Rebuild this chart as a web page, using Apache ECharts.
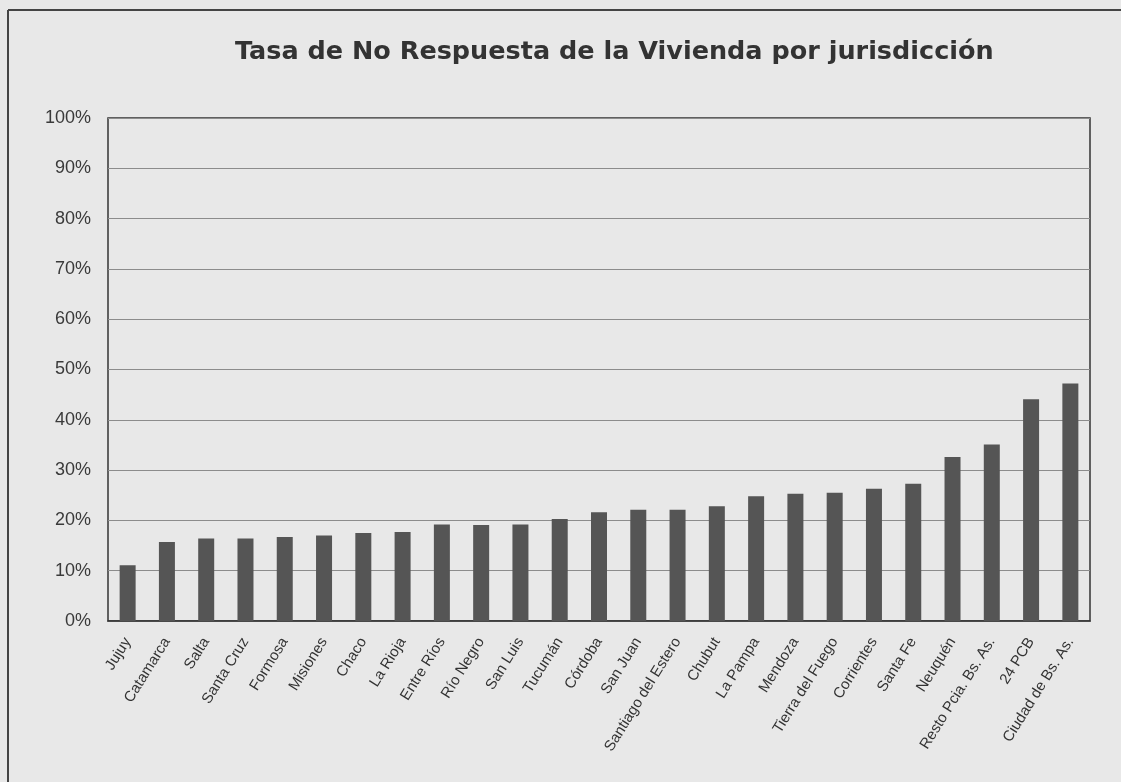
<!DOCTYPE html>
<html>
<head>
<meta charset="utf-8">
<script src="https://cdn.jsdelivr.net/npm/echarts@6/dist/echarts.min.js"></script>
<style>
  html, body { margin: 0; padding: 0; background: #e8e8e8; }
  #chart { width: 1121px; height: 782px; }
</style>
</head>
<body>
<div id="chart"></div>
<script>
const titleText = 'Tasa de No Respuesta de la Vivienda por jurisdicción';
const categories = ['Jujuy', 'Catamarca', 'Salta', 'Santa Cruz', 'Formosa', 'Misiones', 'Chaco', 'La Rioja',
  'Entre Ríos', 'Río Negro', 'San Luis', 'Tucumán', 'Córdoba', 'San Juan', 'Santiago del Estero', 'Chubut',
  'La Pampa', 'Mendoza', 'Tierra del Fuego', 'Corrientes', 'Santa Fe', 'Neuquén', 'Resto Pcia. Bs. As.',
  '24 PCB', 'Ciudad de Bs. As.'];
const values = [11.1, 15.7, 16.4, 16.4, 16.7, 17.0, 17.5, 17.7, 19.2, 19.1, 19.2, 20.3, 21.6, 22.1, 22.1,
  22.8, 24.8, 25.3, 25.5, 26.3, 27.3, 32.6, 35.1, 44.1, 47.2];
const yTicks = [0, 10, 20, 30, 40, 50, 60, 70, 80, 90, 100];

const chart = echarts.init(document.getElementById('chart'));
const font = 'Liberation Sans, Arial, sans-serif';
chart.setOption({
  backgroundColor: '#e8e8e8',
  animation: false,
  title: {
    text: titleText,
    left: 230,
    top: 34,
    textStyle: { fontFamily: 'DejaVu Sans', fontSize: 25.5, fontWeight: 'bold', color: '#333' }
  },
  graphic: [
    { type: 'line', shape: { x1: 8, y1: 10, x2: 1121, y2: 10 }, style: { stroke: '#444', lineWidth: 2 } },
    { type: 'line', shape: { x1: 8, y1: 10, x2: 8, y2: 782 }, style: { stroke: '#444', lineWidth: 2 } }
  ],
  grid: {
    left: 108, right: 31, top: 118, bottom: 161,
    show: true, borderColor: '#333', borderWidth: 1.5, backgroundColor: 'transparent'
  },
  xAxis: {
    type: 'category',
    data: categories,
    axisLine: { lineStyle: { color: '#333', width: 1.5 } },
    axisTick: { show: false },
    axisLabel: { rotate: 58, interval: 0, margin: 18, fontFamily: font, fontSize: 15, color: '#333' }
  },
  yAxis: {
    type: 'value',
    min: 0, max: 100, interval: 10,
    axisLine: { show: false },
    axisTick: { show: false },
    splitLine: { lineStyle: { color: '#8c8c8c', width: 1 } },
    axisLabel: {
      margin: 17, fontFamily: font, fontSize: 18, color: '#3a3a3a',
      formatter: v => (yTicks.includes(v) ? v + '%' : '')
    }
  },
  series: [{
    type: 'bar',
    data: values,
    barWidth: 16,
    itemStyle: { color: '#555555' }
  }]
});
</script>
</body>
</html>
